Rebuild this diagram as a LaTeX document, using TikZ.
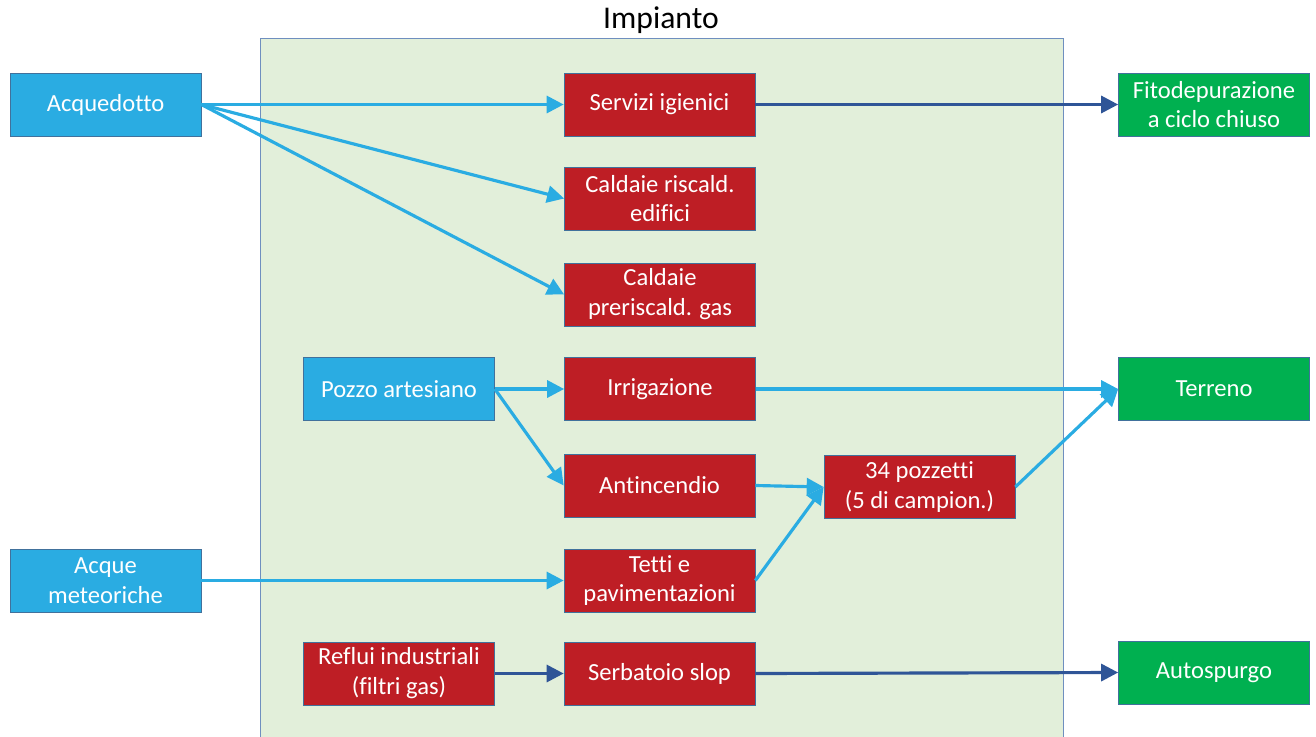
\documentclass[tikz,border=0pt]{standalone}
\usepackage{fontspec}
\setmainfont{Carlito}[Ligatures=CommonOff]
\usetikzlibrary{arrows.meta}

\definecolor{acqua}{HTML}{2AACE2}
\definecolor{rosso}{HTML}{BE1E25}
\definecolor{verde}{HTML}{00B050}
\definecolor{fondo}{HTML}{E2EFDA}
\definecolor{bordo}{HTML}{41719C}
\definecolor{cornice}{HTML}{6F8FBF}
\definecolor{scuro}{HTML}{2F5597}

\begin{document}
\begin{tikzpicture}[
  x=0.02cm, y=-0.02cm,
  font=\fontsize{14}{17}\selectfont,
  box/.style={draw=bordo, thin, align=center, inner sep=1pt, text=white,
    minimum width=3.82cm, minimum height=1.26cm},
  fonte/.style={box, fill=acqua},
  uso/.style={box, fill=rosso},
  dest/.style={box, fill=verde},
  flow/.style={-{Triangle[length=3.4mm,width=3.4mm]}, line width=1.8pt, acqua},
  flowdark/.style={flow, scuro}]

\useasboundingbox (0,0) rectangle (1316,737);
\fill[fondo] (260,38) rectangle (1063,737);
\draw[cornice, thin] (260,737) -- (260,38) -- (1063,38) -- (1063,737);
\node (titolo) at (661,20) {\fontsize{18}{20}\selectfont Impianto};

% sorgenti
\node[fonte] (acq) at (105.5,104.5) {Acquedotto};
\node[fonte] (pozzo) at (399,389) {Pozzo artesiano};
\node[fonte] (meteo) at (105.5,580.5) {Acque\\meteoriche};
\node[uso] (reflui) at (399,673.5) {Reflui industriali\\(filtri gas)};

% utenze
\node[uso] (servizi) at (659.5,104.5) {Servizi igienici};
\node[uso] (risc) at (660,198.5) {Caldaie riscald.\\edifici};
\node[uso] (prerisc) at (660,294.5) {Caldaie\\preriscald. gas};
\node[uso] (irrig) at (660,389) {Irrigazione};
\node[uso] (antinc) at (659.5,485.5) {Antincendio};
\node[uso] (tetti) at (659.5,580.5) {Tetti e\\pavimentazioni};
\node[uso] (slop) at (659.5,673.5) {Serbatoio slop};
\node[uso] (pozzetti) at (919.5,487) {34 pozzetti\\(5 di campion.)};

% destinazioni
\node[dest] (fito) at (1214,104.5) {Fitodepurazione\\a ciclo chiuso};
\node[dest] (terreno) at (1214,389) {Terreno};
\node[dest] (auto) at (1214,672.5) {Autospurgo};

\draw[flow] (acq.east) -- (servizi.west);
\draw[flow] (acq.east) -- (risc.west);
\draw[flow] (acq.east) -- (prerisc.west);
\draw[flow] (pozzo.east) -- (irrig.west);
\draw[flow] (pozzo.east) -- (antinc.west);
\draw[flow] (meteo.east) -- (tetti.west);
\draw[flow] (antinc.east) -- (pozzetti.west);
\draw[flow] (tetti.east) -- (pozzetti.west);
\draw[flow] (irrig.east) -- (terreno.west);
\draw[flow] (pozzetti.east) -- (terreno.west);
\draw[flowdark] (servizi.east) -- (fito.west);
\draw[flowdark] (reflui.east) -- (slop.west);
\draw[flowdark] (slop.east) -- (auto.west);
\end{tikzpicture}
\end{document}
